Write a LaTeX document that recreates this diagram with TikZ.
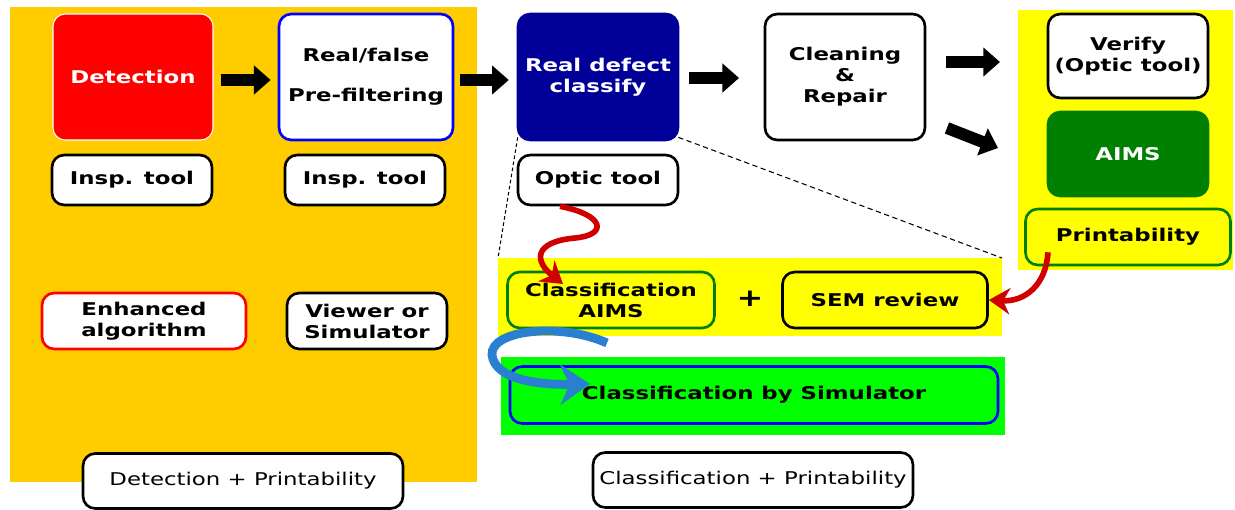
\documentclass[tikz,border=0pt]{standalone}
\usepackage{fontspec}
\setmainfont{DejaVu Sans}[FakeStretch=1.3]
\usepackage{tikz}
\usetikzlibrary{arrows.meta,
	calc,
	positioning}
\definecolor{panelorange}{HTML}{FFCC00}
\definecolor{panelyellow}{HTML}{FFFF00}
\definecolor{panelgreen}{HTML}{00FF00}
\definecolor{navybox}{HTML}{000099}
\definecolor{aimsgreen}{HTML}{008000}
\definecolor{arrowred}{HTML}{D00000}
\definecolor{arrowblue}{HTML}{2A7FD0}
\def\px{0.02cm}
\tikzstyle{box}=[draw, line width=1.5pt, rounded corners=7pt, fill=white, align=center,
		inner sep=0pt, font=\bfseries\fontsize{10}{12}\selectfont]
\tikzstyle{stage}=[box, minimum width=160*\px, minimum height=126*\px]
\tikzstyle{tool}=[box, minimum width=160*\px, minimum height=50*\px]
\tikzstyle{wide}=[box, minimum width=205*\px, minimum height=56*\px]
\tikzstyle{caption}=[box, font=\fontsize{10}{12}\selectfont, minimum width=320*\px, minimum height=55*\px]
\tikzstyle{panel}=[inner sep=0, outer sep=0]
\tikzstyle{blockarrow}=[line width=6.8pt, -{Triangle[length=9.5pt,width=16pt]}]
\tikzstyle{redarrow}=[arrowred, line width=3.2pt, -{Stealth[length=12pt,width=15pt]}]
\tikzstyle{bluearrow}=[arrowblue, line width=5pt, -{Stealth[length=17pt,width=23pt]}]
\tikzstyle{zoomline}=[line width=0.6pt, dash pattern=on 3pt off 2pt]

\begin{document}
\begin{tikzpicture}[x=\px, y=-\px]
    \useasboundingbox (0,0) rectangle (1235,510);
    % panels
    \fill[panelorange] (10,7) rectangle (477,482);
    \fill[panelyellow] (1018,10) rectangle (1233,270);
    \fill[panelyellow] (498,258) coordinate (midnw) rectangle (1002,336) coordinate (midse);
    \coordinate (midne) at (1002,258);
    \fill[panelgreen] (501,357) rectangle (1005,435);

    % detection side
    \node[stage, fill=red, draw=white, line width=0.6pt, text=white] (det) at (133,77) {Detection};
    \node[stage, draw=blue, minimum width=174*\px] (rf) at (366,77) {Real/false\\[11pt]Pre-filtering};
    \node[tool] (insp1) at (132,180) {Insp. tool};
    \node[tool] (insp2) at (365,180) {Insp. tool};
    \node[wide, draw=red, minimum width=204*\px] (enh) at (144,321) {Enhanced\\algorithm};
    \node[tool, minimum height=56*\px] (viewer) at (367,321) {Viewer or\\Simulator};
    \node[caption] (detprint) at (243,481) {Detection + Printability};

    % classification side
    \node[stage, fill=navybox, draw=navybox, text=white] (rdc) at (598,77) {Real defect\\classify};
    \node[tool] (optic) at (598,180) {Optic tool};
    \node[stage] (clean) at (845,77) {Cleaning\\\&\\Repair};
    \node[tool, minimum height=84*\px] (verify) at (1128,56) {Verify\\(Optic tool)};
    \node[tool, minimum height=84*\px, fill=aimsgreen, draw=aimsgreen, text=white] (aims) at (1128,154) {AIMS};
    \node[wide, fill=panelyellow, draw=aimsgreen] (printab) at (1128,237) {Printability};
    \node[wide, fill=panelyellow, draw=aimsgreen, minimum width=207*\px] (classaims) at (611,300) {Classification\\AIMS};
    \node[font=\bfseries\fontsize{14}{14}\selectfont] (plus) at (750,299) {+};
    \node[wide, fill=panelyellow] (sem) at (885,300) {SEM review};
    \node[wide, fill=panelgreen, draw=blue, minimum width=488*\px, minimum height=57*\px] (classsim) at (754,395) {Classification by Simulator};
    \node[caption] (classprint) at (753,480) {Classification + Printability};

    % flow arrows
    \coordinate (v1s) at (946,62);
    \coordinate (v1e) at (1000,62);
    \coordinate (v2s) at (947,128);
    \coordinate (v2e) at (998,148);
    \draw[blockarrow, shorten <=4pt, shorten >=4pt] (det.east |- 0,80) -- (rf.west |- 0,80);
    \draw[blockarrow, shorten <=3pt, shorten >=4.5pt] (rf.east |- 0,80) -- (rdc.west |- 0,80);
    \draw[blockarrow, shorten <=5.7pt, shorten >=14pt] (rdc.east |- 0,78) -- (clean.west |- 0,78);
    \draw[blockarrow] (v1s) -- (v1e);
    \draw[blockarrow] (v2s) -- (v2e);

    % zoom lines
    \draw[zoomline, dash pattern=on 2pt off 1.5pt] (rdc.south west) ++(1,-4) -- (midnw);
    \draw[zoomline] (rdc.south east) ++(-1,-4) -- (midne);

    % curved arrows
    \draw[redarrow] (optic.south) ++(-38,0) .. controls (605,215) and (608,235) .. (575,238)
        .. controls (532,242) and (535,262) .. (563,284);
    \draw[redarrow] (printab.south) ++(-80,-14) .. controls (1046,285) and (1025,302) .. (sem.east);
    \draw[bluearrow] (607,343) .. controls (560,322) and (490,330) .. (492,355)
        .. controls (495,380) and (540,385) .. (590,384);
\end{tikzpicture}
\end{document}
